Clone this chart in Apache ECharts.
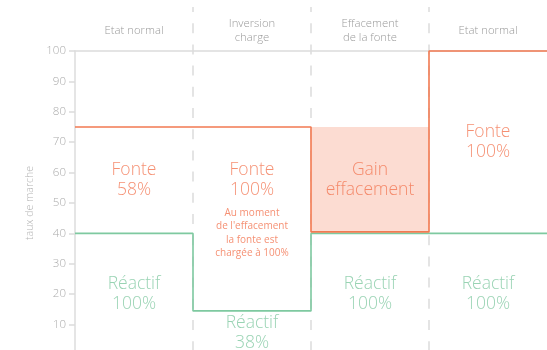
<!DOCTYPE html>
<html>
<head>
<meta charset="utf-8">
<script src="https://cdn.jsdelivr.net/npm/echarts@6/dist/echarts.min.js"></script>
<style>
html,body{margin:0;padding:0;background:#fff;}
#chart{width:547px;height:350px;}
</style>
</head>
<body>
<div id="chart"></div>
<script>
// ---- data ----
const phases = ['Etat normal', 'Inversion\ncharge', 'Effacement\nde la fonte', 'Etat normal'];
const fonte = [75, 75, 40.5, 100];      // taux de marche fonte per phase
const reactif = [40, 14.5, 40, 40];     // taux de marche réactif per phase
const fonteLabels = ['Fonte\n58%', 'Fonte\n100%', 'Gain\neffacement', 'Fonte\n100%'];
const reactifLabels = ['Réactif\n100%', 'Réactif\n38%', 'Réactif\n100%', 'Réactif\n100%'];
const noteText = "Au moment\nde l'effacement\nla fonte est\nchargée à 100%";
const noteColumn = 1;
const gainColumn = 2;
const yTicks = [0, 100, 10];

// ---- styles ----
const ORANGE = '#f27a52';
const GREEN = '#7ec9a0';
const GREEN_TXT = '#7fc8a0';
const ORANGE_TXT = '#f27450';
const GRAY = '#dcdcdc';
const FONT = '"Open Sans", "DejaVu Sans", sans-serif';

function stepData(vals) {
  const d = vals.map((v, i) => [i, v]);
  d.push([vals.length, vals[vals.length - 1]]);
  return d;
}
const normalReactif = reactif[0];
const fonteLabelData = fonte.map((v, i) => {
  const top = (i === gainColumn) ? fonte[gainColumn - 1] : v;
  return { value: [i + 0.5, (top + normalReactif) / 2], label: { formatter: fonteLabels[i] } };
});
const reactifLabelData = reactif.map((v, i) => ({ value: [i + 0.5, v / 2], label: { formatter: reactifLabels[i] } }));

const bigLabel = { show: true, position: 'inside', fontFamily: FONT, fontWeight: 350, fontSize: 17.5, lineHeight: 20, align: 'center', verticalAlign: 'middle' };

const chart = echarts.init(document.getElementById('chart'), null, { renderer: 'canvas' });
chart.setOption({
  animation: false,
  backgroundColor: '#fff',
  grid: [
    { left: 75, right: 0, top: 51, bottom: -5, containLabel: false, outerBoundsMode: 'none' },
    { left: 75, right: 0, top: 7, bottom: 0, containLabel: false, outerBoundsMode: 'none' }
  ],
  xAxis: [
    { type: 'value', gridIndex: 0, min: 0, max: phases.length, show: false },
    { type: 'category', gridIndex: 0, position: 'top', data: phases, boundaryGap: true,
      axisLine: { show: true, lineStyle: { color: GRAY, width: 1.5 } },
      axisTick: { show: false },
      axisLabel: { color: '#9a9a9a', fontFamily: FONT, fontWeight: 300, fontSize: 11.3, lineHeight: 13.5, margin: 20, verticalAlign: 'middle', interval: 0 },
      splitLine: { show: false } },
    { type: 'value', gridIndex: 1, min: 0, max: phases.length, interval: 1,
      axisLine: { show: false }, axisTick: { show: false }, axisLabel: { show: false },
      splitLine: { show: true, showMinLine: false, showMaxLine: false,
        lineStyle: { color: GRAY, width: 1.5, type: [10, 11.2], dashOffset: 5 } } }
  ],
  yAxis: [
    { type: 'value', gridIndex: 0, min: yTicks[0], max: yTicks[1], interval: yTicks[2],
      name: 'taux de marche', nameLocation: 'middle', nameGap: 38, nameRotate: 90,
      nameTextStyle: { color: '#b5b5b5', fontFamily: FONT, fontWeight: 300, fontSize: 10.5 },
      axisLine: { show: true, lineStyle: { color: GRAY, width: 1.5 } },
      axisTick: { show: true, length: 6, lineStyle: { color: GRAY, width: 1.5 } },
      axisLabel: { color: '#ababab', fontFamily: FONT, fontWeight: 300, fontSize: 11.5, margin: 9 },
      splitLine: { show: false } },
    { type: 'value', gridIndex: 1, min: 0, max: 1, show: false, splitLine: { show: false } }
  ],
  series: [
    { type: 'line', name: 'Fonte', xAxisIndex: 0, yAxisIndex: 0, step: 'end', clip: false,
      data: stepData(fonte), symbol: 'none', z: 5,
      lineStyle: { color: ORANGE, width: 1.6 },
      markArea: { silent: true, z: 1,
        itemStyle: { color: '#fcdcd2' },
        data: [[{ xAxis: gainColumn, yAxis: fonte[gainColumn] }, { xAxis: gainColumn + 1, yAxis: fonte[gainColumn - 1] }]] } },
    { type: 'line', name: 'Réactif', xAxisIndex: 0, yAxisIndex: 0, step: 'end', clip: false,
      data: stepData(reactif), symbol: 'none', z: 4,
      lineStyle: { color: GREEN, width: 1.6 } },
    { type: 'scatter', xAxisIndex: 0, yAxisIndex: 0, symbolSize: 0, data: fonteLabelData, z: 6,
      label: Object.assign({}, bigLabel, { color: ORANGE_TXT }) },
    { type: 'scatter', xAxisIndex: 0, yAxisIndex: 0, symbolSize: 0, data: reactifLabelData, z: 6,
      label: Object.assign({}, bigLabel, { color: GREEN_TXT }) },
    { type: 'scatter', xAxisIndex: 0, yAxisIndex: 0, symbolSize: 0, z: 6,
      data: [{ value: [noteColumn + 0.5, normalReactif], label: { formatter: noteText } }],
      label: { show: true, position: 'inside', color: ORANGE_TXT, fontFamily: FONT, fontSize: 10, lineHeight: 13.5, align: 'center', verticalAlign: 'middle' } }
  ]
});
</script>
</body>
</html>
